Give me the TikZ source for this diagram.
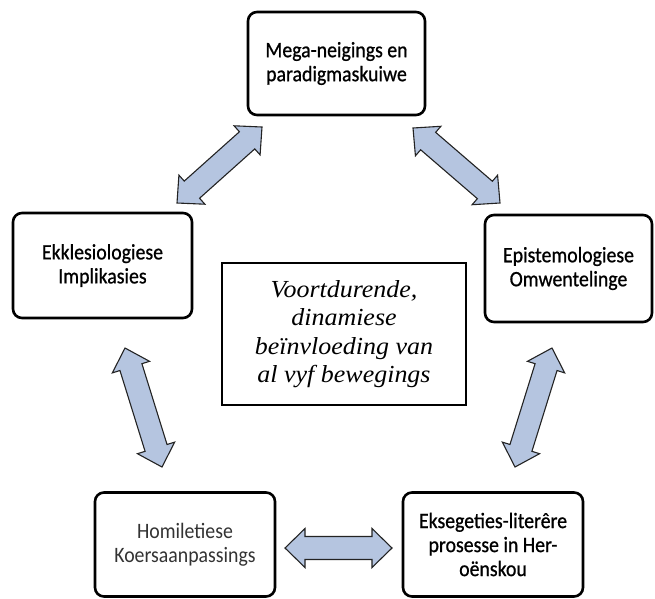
\documentclass[tikz,border=0pt]{standalone}
\usepackage{fontspec}
\setmainfont{Carlito}[FakeStretch=0.9, FakeBold=0.8]
\newfontfamily\lightfont{Carlito}[FakeStretch=0.9]
\newfontfamily\notefont{Liberation Serif}[FakeStretch=1.06]
\usetikzlibrary{calc}

\definecolor{arrowfill}{RGB}{181,197,224}
\definecolor{arrowline}{RGB}{35,35,35}

% sizes of the block arrows
\newcommand\headlen{20pt}
\newcommand\headhw{19.5pt}
\newcommand\shafthw{11.5pt}

% double-headed block arrow between two named tip coordinates
\newcommand\blockarrow[2]{%
  \coordinate (#1#2p) at ($(#1)!\headlen!(#2)$);
  \coordinate (#1#2q) at ($(#2)!\headlen!(#1)$);
  \draw[blockarrow] (#1)
    -- ($(#1#2p)!\headhw!90:(#2)$)
    -- ($(#1#2p)!\shafthw!90:(#2)$)
    -- ($(#1#2q)!\shafthw!90:(#2)$)
    -- ($(#1#2q)!\headhw!90:(#2)$)
    -- (#2)
    -- ($(#1#2q)!\headhw!-90:(#2)$)
    -- ($(#1#2q)!\shafthw!-90:(#2)$)
    -- ($(#1#2p)!\shafthw!-90:(#2)$)
    -- ($(#1#2p)!\headhw!-90:(#2)$)
    -- cycle;}

\begin{document}
\begin{tikzpicture}[x=1pt,y=-1pt,
  box/.style={draw=black, line width=2.6pt, rounded corners=9pt, fill=white,
    align=center, inner sep=0pt, font=\fontsize{22}{24}\selectfont},
  notebox/.style={draw=black, line width=1.6pt, fill=white, align=center,
    inner sep=0pt, font=\notefont\itshape\fontsize{24.5}{28.5}\selectfont},
  blockarrow/.style={fill=arrowfill, draw=arrowline, line width=1.1pt, line join=miter}]

\useasboundingbox (0,0) rectangle (655,598);

% the five movements
\node[box, minimum width=177pt, minimum height=103pt] (mega) at (336.5,63.5)
  {Mega-neigings en\\paradigmaskuiwe};
\node[box, minimum width=179pt, minimum height=105pt] (ekk) at (102.5,265.5)
  {Ekklesiologiese\\Implikasies};
\node[box, minimum width=167pt, minimum height=107pt] (epi) at (568.5,268.5)
  {Epistemologiese\\Omwentelinge};
\node[box, minimum width=180pt, minimum height=104pt, text=black!80,
  font=\lightfont\fontsize{22}{24}\selectfont] (hom) at (185,544.5)
  {Homiletiese\\Koersaanpassings};
\node[box, minimum width=180pt, minimum height=104pt] (eks) at (493,544.5)
  {Eksegeties-liter\^ere\\prosesse in Her-\\o\"enskou};

% centre note
\node[notebox, minimum width=244pt, minimum height=142pt] (note) at (344,334)
  {Voortdurende,\\dinamiese\\be\"invloeding van\\al vyf bewegings};

% arrow tips
\coordinate (tlA) at (177,203);
\coordinate (tlB) at (262,127);
\coordinate (trA) at (413,128);
\coordinate (trB) at (500,203);
\coordinate (lA) at (125,348);
\coordinate (lB) at (162,467);
\coordinate (rA) at (552,348);
\coordinate (rB) at (515,467);
\coordinate (hA) at (285,548);
\coordinate (hB) at (392,548);

\blockarrow{tlA}{tlB}
\blockarrow{trA}{trB}
\blockarrow{lA}{lB}
\blockarrow{rA}{rB}
\blockarrow{hA}{hB}

\end{tikzpicture}
\end{document}
